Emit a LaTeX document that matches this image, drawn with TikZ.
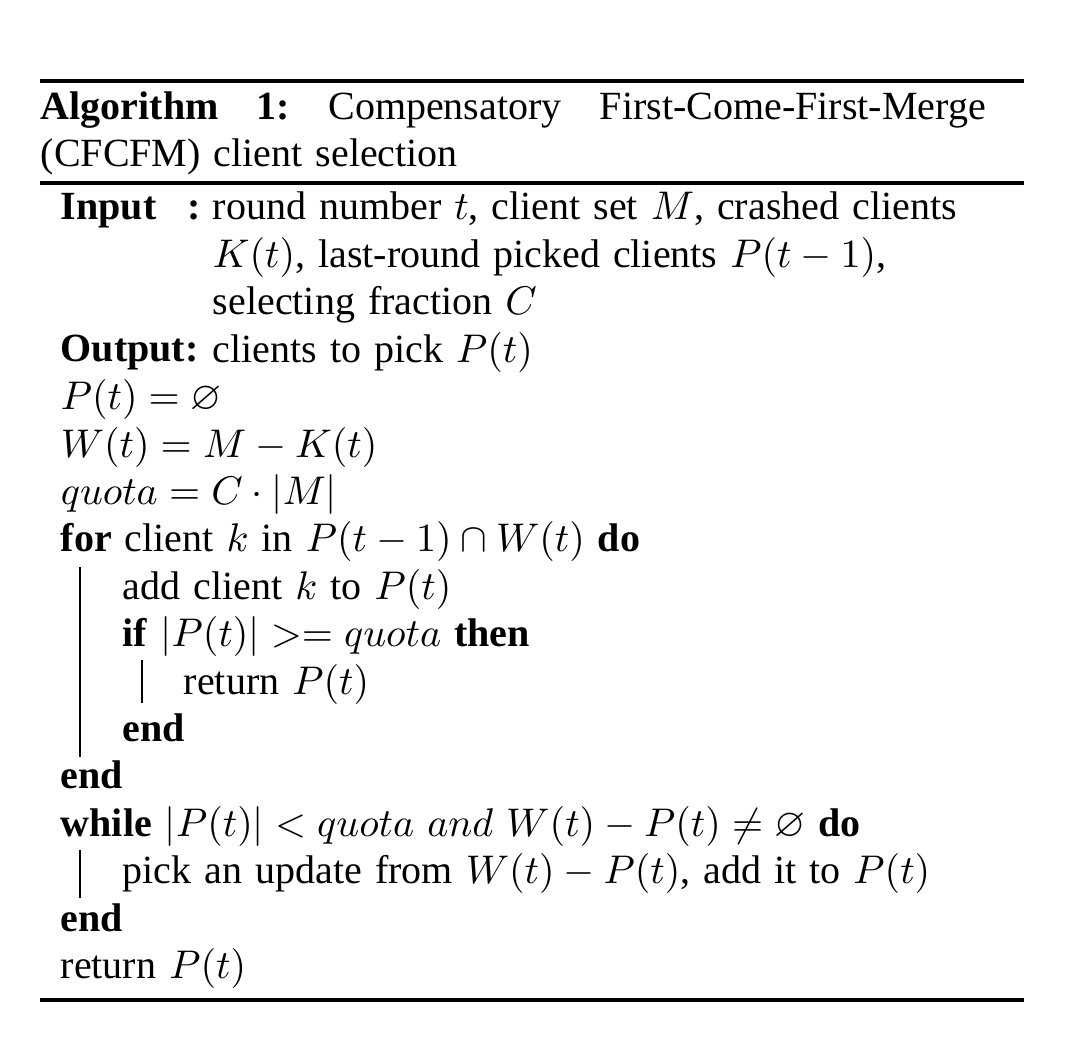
\documentclass[tikz,border=0pt]{standalone}
\usepackage{amssymb}
\usepackage[no-math]{fontspec}
\setmainfont[WordSpace=1.3]{Liberation Serif}
\begin{document}
\fontsize{10}{12}\selectfont
\begin{tikzpicture}
[x=0.25pt,y=-0.25pt,
  codeLine/.style={anchor=base west,inner sep=0pt,font=\fontsize{10}{12}\selectfont},
  ruleDecorate/.style={line width=0.8pt},
  barDecorate/.style={line width=0.4pt}]
\useasboundingbox (0,0) rectangle (1090,1058);
%% rules
\foreach \rulename/\y in {topRule/81, midRule/183, botRule/1000}
{
  \coordinate (\rulename W) at (40,\y);
  \coordinate (\rulename E) at (1024,\y);
  \draw[ruleDecorate] (\rulename W) -- (\rulename E);
}
%% caption
\node[codeLine,text width=236.25pt,align=left] (cap1) at (40,120)
  {\textbf{Algorithm\hfill 1:}\hfill Compensatory\hfill First-Come-First-Merge};
\node[codeLine] (cap2) at (40,167) {(CFCFM) client selection};
%% input and output labels
\node[codeLine] (inLabel) at (60,220) {\textbf{Input}};
\node[codeLine] (inColon) at (187,220) {\textbf{:}};
\node[codeLine] (outLabel) at (60,362) {\textbf{Output:}};
%% lines of the algorithm
\foreach \row/\xpos/\txt in {
  0/212/{round number $t$, client set $M$, crashed clients},
  1/212/{$K(t)$, last-round picked clients $P(t-1)$,},
  2/212/{selecting fraction $C$},
  3/212/{clients to pick $P(t)$},
  4/60/{$P(t)=\varnothing$},
  5/60/{$W(t)=M-K(t)$},
  6/60/{$quota=C\cdot|M|$},
  7/60/{\textbf{for} client $k$ in $P(t-1)\cap W(t)$ \textbf{do}},
  8/122/{add client $k$ to $P(t)$},
  9/122/{\textbf{if} $|P(t)|>=quota$ \textbf{then}},
  10/183/{return $P(t)$},
  11/122/{\textbf{end}},
  12/60/{\textbf{end}},
  13/60/{\textbf{while} $|P(t)|<quota$ $and$ $W(t)-P(t)\neq\varnothing$ \textbf{do}},
  14/122/{pick an update from $W(t)-P(t)$, add it to $P(t)$},
  15/60/{\textbf{end}},
  16/60/{return $P(t)$}}
{
  \node[codeLine] (l\row) at (\xpos,{220+47.4*\row}) {\txt};
}
%% block bars
\foreach \barname/\x/\ytop/\ybot in {forBar/80/567/757, ifBar/142/660/703, whileBar/80/850/898}
{
  \coordinate (\barname Top) at (\x,\ytop);
  \coordinate (\barname Bot) at (\x,\ybot);
  \draw[barDecorate] (\barname Top) -- (\barname Bot);
}
\end{tikzpicture}
\end{document}
